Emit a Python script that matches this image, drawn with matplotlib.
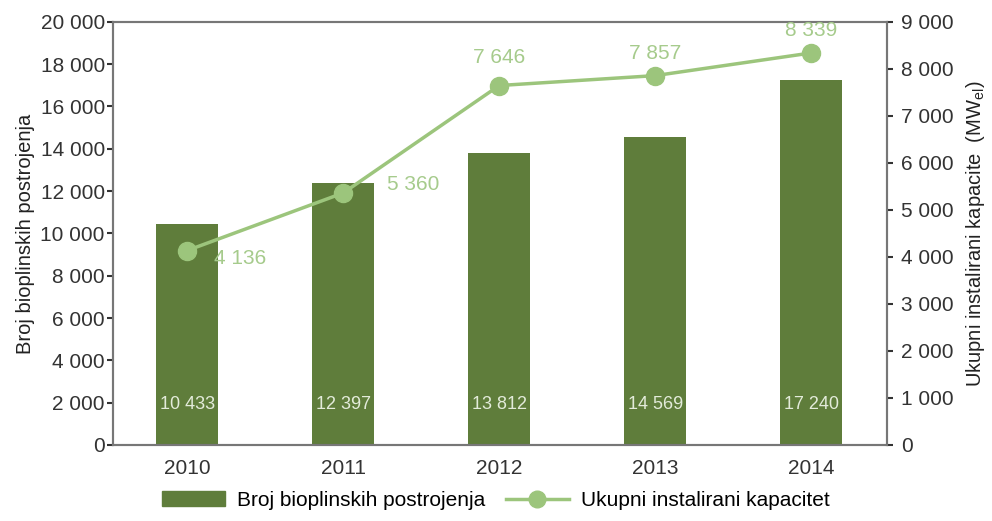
import matplotlib.pyplot as plt
import numpy as np
from matplotlib.lines import Line2D
from matplotlib.patches import Patch

years = ["2010", "2011", "2012", "2013", "2014"]
plants = [10433, 12397, 13812, 14569, 17240]
capacity = [4136, 5360, 7646, 7857, 8339]
plant_labels = ["10 433", "12 397", "13 812", "14 569", "17 240"]
capacity_labels = ["4 136", "5 360", "7 646", "7 857", "8 339"]
left_ticks = list(range(0, 20001, 2000))
right_ticks = list(range(0, 9001, 1000))

BAR = "#5f7d3b"
LINE = "#9cc57c"
LABEL = "#a6cb8c"
TXT = "#333333"

plt.rcParams["font.family"] = ["Liberation Sans", "DejaVu Sans"]
plt.rcParams["mathtext.fontset"] = "custom"
plt.rcParams["mathtext.rm"] = "Liberation Sans"

fig = plt.figure(figsize=(9.92, 5.21), dpi=100)
ax = fig.add_axes([0.114, 0.146, 0.780, 0.812])
x = np.arange(len(years))
ax.bar(x, plants, width=0.40, color=BAR, zorder=2)
ax.set_xlim(-0.475, 4.485)
ax.set_ylim(0, 20000)
ax.set_yticks(left_ticks)
ax.set_yticklabels([f"{v:,}".replace(",", " ") for v in left_ticks])
ax.set_xticks(x)
ax.set_xticklabels(years)
ax.tick_params(axis="y", labelsize=15, colors=TXT, length=4, width=1.5, direction="out", pad=2)
ax.tick_params(axis="x", labelsize=15, colors=TXT, length=0, pad=10)
for s in ax.spines.values():
    s.set_color("#777777")
    s.set_linewidth(1.5)
ax.set_ylabel("Broj bioplinskih postrojenja", fontsize=14.5, color="#222222", labelpad=4)

for xi, lbl in zip(x, plant_labels):
    ax.text(xi, 1900, lbl, ha="center", va="center", color="#e3ebda", fontsize=13, zorder=3)

ax2 = ax.twinx()
ax2.plot(x, capacity, color=LINE, lw=2.5, marker="o", ms=13, zorder=4)
ax2.set_ylim(0, 9000)
ax2.set_yticks(right_ticks)
ax2.set_yticklabels([f"{v:,}".replace(",", " ") for v in right_ticks])
ax2.tick_params(axis="y", labelsize=15, colors=TXT, length=4, width=1.5, direction="out", pad=6)
for s in ax2.spines.values():
    s.set_color("#777777")
    s.set_linewidth(1.5)
ax2.set_ylabel(r"Ukupni instalirani kapacite  (MW$\mathrm{_{el}}$)", fontsize=14.5,
               color="#222222", labelpad=8)

# label offsets (x in categories, y in right-axis units)
offsets = [(0.34, -180), (0.45, 170), (0, 590), (0, 470), (0, 470)]
for xi, v, lbl, (dx, dy) in zip(x, capacity, capacity_labels, offsets):
    ax2.text(xi + dx, v + dy, lbl, ha="center", va="center", color=LABEL, fontsize=15, zorder=5)

handles = [Patch(color=BAR), Line2D([0], [0], color=LINE, lw=2.5, marker="o", ms=12)]
fig.legend(handles, ["Broj bioplinskih postrojenja", "Ukupni instalirani kapacitet"],
           loc="lower center", bbox_to_anchor=(0.5, -0.015), ncol=2, frameon=False,
           fontsize=15, handlelength=3.0, columnspacing=1.0, handletextpad=0.6)

fig.savefig("out.png", dpi=100)
